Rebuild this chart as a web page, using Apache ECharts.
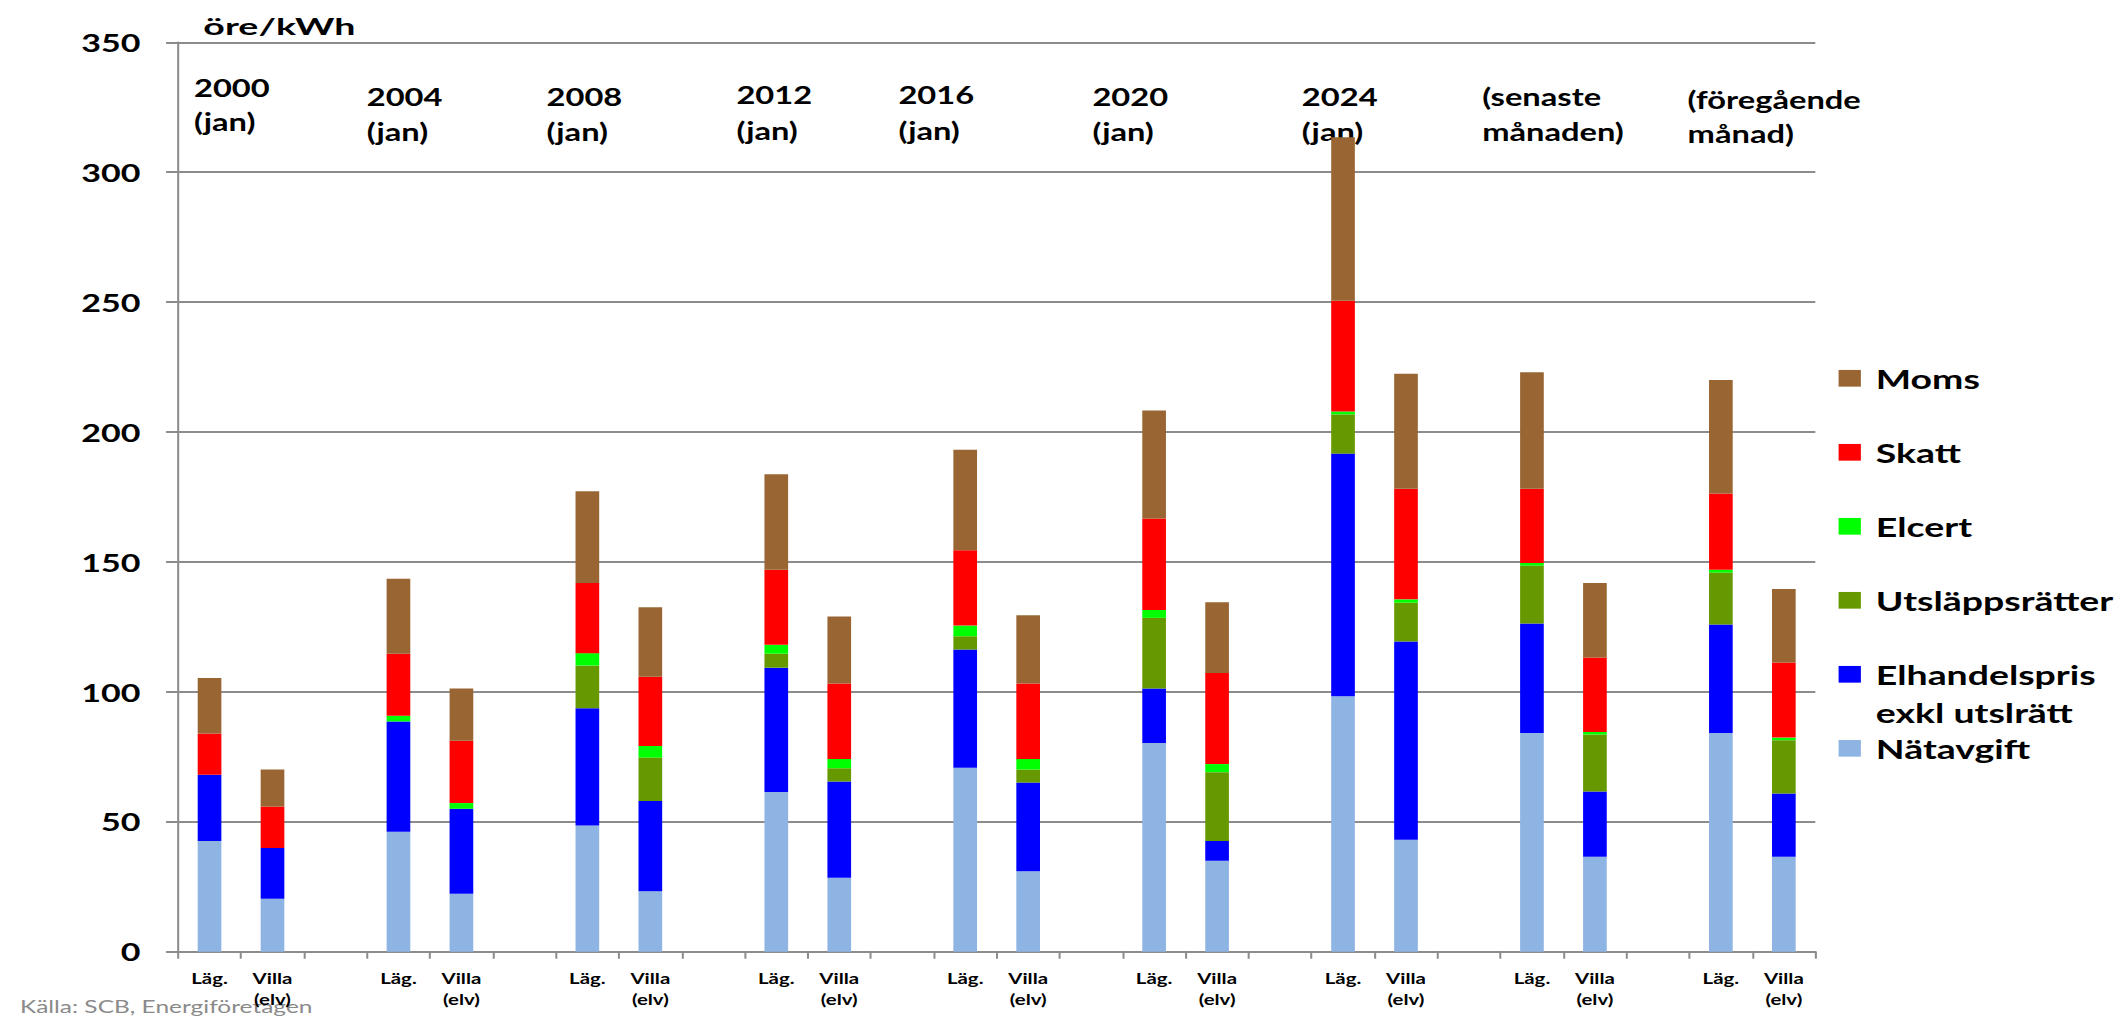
<!DOCTYPE html>
<html>
<head>
<meta charset="utf-8">
<script src="https://cdn.jsdelivr.net/npm/echarts@6/dist/echarts.min.js"></script>
<style>
html, body { margin: 0; padding: 0; background: #ffffff; overflow: hidden; }
#main { width: 1563px; height: 1016px; transform: scaleX(1.3602); transform-origin: 0 0; }
</style>
</head>
<body>
<div id="main"></div>
<script>
// ---- data (öre/kWh) ----
const groupLabels = ['2000\n(jan)', '2004\n(jan)', '2008\n(jan)', '2012\n(jan)', '2016\n(jan)',
  '2020\n(jan)', '2024\n(jan)', '(senaste\nmånaden)', '(föregående\nmånad)'];
const pairLabels = ['Läg.', 'Villa\n(elv)'];
const yTicks = [0, 50, 100, 150, 200, 250, 300, 350];

// order per pair: Läg., Villa (elv) for each group
const natavgift   = [42.6, 20.4, 46.2, 22.3, 48.6, 23.3, 61.5, 28.5, 70.8, 31.0, 80.3, 35.0, 98.3, 43.1, 84.2, 36.5, 84.2, 36.5];
const elhandel    = [25.5, 19.5, 42.4, 32.7, 45.1, 34.7, 47.8, 37.0, 45.5, 34.1, 21.0, 7.6, 93.4, 76.3, 42.1, 25.2, 41.7, 24.4];
const utslapp     = [0, 0, 0, 0, 16.4, 16.7, 5.4, 5.1, 5.1, 5.0, 27.2, 26.5, 15.1, 14.9, 22.3, 21.9, 20.0, 20.5];
const elcert      = [0, 0, 2.2, 2.2, 4.8, 4.5, 3.4, 3.6, 4.1, 4.1, 3.0, 3.1, 1.1, 1.3, 1.0, 1.0, 1.1, 1.0];
const skatt       = [15.9, 16.0, 23.9, 24.0, 27.0, 26.6, 28.9, 29.0, 29.0, 29.0, 35.2, 35.1, 42.6, 42.6, 28.6, 28.6, 29.3, 28.9];
const moms        = [21.3, 14.2, 28.8, 20.1, 35.3, 26.8, 36.8, 25.8, 38.7, 26.3, 41.6, 27.2, 63.0, 44.2, 44.8, 28.7, 43.7, 28.3];

const seriesNames = ['Nätavgift', 'Elhandelspris exkl utslrätt', 'Utsläppsrätter', 'Elcert', 'Skatt', 'Moms'];
const seriesValues = [natavgift, elhandel, utslapp, elcert, skatt, moms];
const seriesColors = ['#8eb4e3', '#0000ff', '#669900', '#00ff00', '#ff0000', '#996633'];
const sourceText = 'Källa: SCB, Energiföretagen';
const unitText = 'öre/kWh';

// ---- layout (pixels in the unscaled canvas) ----
const groupLabelPos = [[142.6, 88.0, 34], [269.6, 96.6, 35.5], [401.8, 96.3, 35.5], [541.4, 94.8, 35.5],
  [660.5, 94.8, 35.5], [803.1, 96.3, 35.5], [957.1, 96.3, 35.5], [1089.7, 96.3, 35.5], [1240.7, 99.3, 34.5]];
const FONT = 'Lato, "Noto Sans", sans-serif';

// build the 26 category slots: Läg., Villa, gap, ...
const categories = [];
const slotIndex = [];
groupLabels.forEach((g, gi) => {
  pairLabels.forEach((p) => { slotIndex.push(categories.length); categories.push(p); });
  if (gi < groupLabels.length - 1) categories.push('');
});
function toSlots(arr) {
  const out = categories.map(() => '-');
  arr.forEach((v, i) => { out[slotIndex[i]] = v; });
  return out;
}

const chart = echarts.init(document.getElementById('main'), null, { renderer: 'svg' });

const graphics = groupLabels.map((t, i) => ({
  type: 'text',
  x: groupLabelPos[i][0],
  y: groupLabelPos[i][1] - groupLabelPos[i][2] / 2,
  style: {
    text: t, fill: '#000', fontFamily: FONT, fontWeight: 'bold', fontSize: 24,
    lineHeight: groupLabelPos[i][2], align: 'left', verticalAlign: 'top'
  }
}));
graphics.push({
  type: 'text', x: 149.5, y: 25.9, scaleX: 1.2,
  style: { text: unitText, fill: '#000', fontFamily: FONT, fontWeight: 'bold', fontSize: 23, align: 'left', verticalAlign: 'middle' }
});
graphics.push({
  type: 'text', x: 14.7, y: 1005.9,
  style: { text: sourceText, fill: '#8a8a8a', fontFamily: FONT, fontSize: 18, align: 'left', verticalAlign: 'middle' }
});
graphics.push({
  type: 'text', x: 1379.1, y: 712.5,
  style: { text: 'exkl utslrätt', fill: '#000', fontFamily: FONT, fontWeight: 'bold', fontSize: 27.5, align: 'left', verticalAlign: 'middle' }
});

const option = {
  animation: false,
  backgroundColor: '#ffffff',
  grid: { left: 130.9, right: 228.4, top: 42.3, bottom: 64.3, containLabel: false },
  legend: {
    orient: 'vertical',
    left: 1351.7,
    top: 359.3,
    padding: 0,
    itemWidth: 16.4,
    itemHeight: 16.7,
    itemGap: 36,
    icon: 'rect',
    selectedMode: false,
    data: ['Moms', 'Skatt', 'Elcert', 'Utsläppsrätter', 'Elhandelspris exkl utslrätt', 'Nätavgift'],
    formatter: (n) => n === 'Elhandelspris exkl utslrätt' ? 'Elhandelspris' : n,
    textStyle: { fontFamily: FONT, fontWeight: 'bold', fontSize: 27.5, lineHeight: 38, color: '#000', padding: [0, 0, 0, 6] }
  },
  xAxis: {
    type: 'category',
    data: categories,
    boundaryGap: true,
    axisLine: { show: true, lineStyle: { color: '#8c8c8c', width: 2 } },
    axisTick: { show: true, interval: 0, length: 7, lineStyle: { color: '#8c8c8c', width: 1.5 } },
    axisLabel: { interval: 0, margin: 16.5, color: '#000', fontFamily: FONT, fontWeight: 'bold', fontSize: 15, lineHeight: 20.7 },
    splitLine: { show: false }
  },
  yAxis: {
    type: 'value',
    min: yTicks[0],
    max: yTicks[yTicks.length - 1],
    interval: yTicks[1] - yTicks[0],
    axisLine: { show: true, lineStyle: { color: '#8c8c8c', width: 1.5 } },
    axisTick: { show: true, length: 8.8, lineStyle: { color: '#8c8c8c', width: 2 } },
    axisLabel: { margin: 27.6, color: '#000', fontFamily: FONT, fontWeight: 'bold', fontSize: 25 },
    splitLine: { show: true, lineStyle: { color: '#8c8c8c', width: 2 } }
  },
  series: seriesNames.map((name, i) => ({
    name: name,
    type: 'bar',
    stack: 'total',
    barWidth: 17.4,
    itemStyle: { color: seriesColors[i] },
    data: toSlots(seriesValues[i])
  })),
  graphic: graphics
};
chart.setOption(option);
</script>
</body>
</html>
